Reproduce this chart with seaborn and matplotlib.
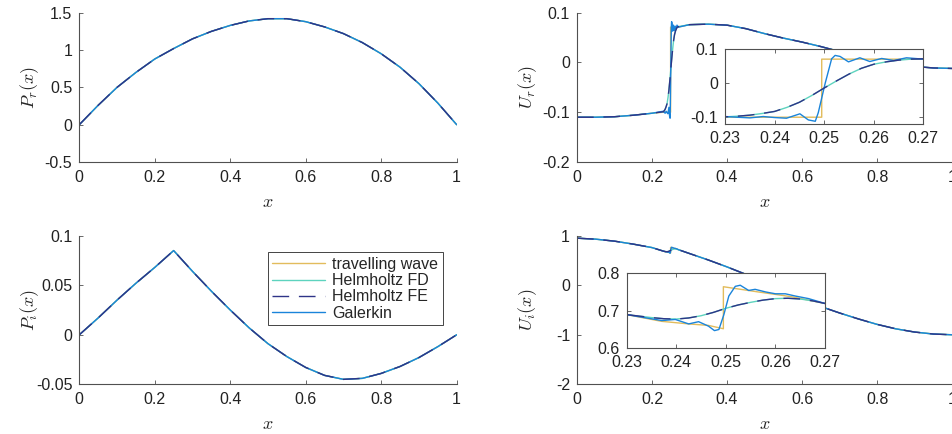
import numpy as np
import pandas as pd
import matplotlib
matplotlib.use('Agg')
import matplotlib.pyplot as plt
import seaborn as sns
from matplotlib.ticker import FuncFormatter

# ---- data ----
# P(x): all four methods agree, so one curve each
x_grid = [0.0, 0.05, 0.1, 0.15, 0.2, 0.25, 0.3, 0.35, 0.4, 0.45, 0.5,
          0.55, 0.6, 0.65, 0.7, 0.75, 0.8, 0.85, 0.9, 0.95, 1.0]
pr_vals = [0.0, 0.26, 0.50, 0.70, 0.88, 1.02, 1.15, 1.25, 1.33, 1.39, 1.42,
           1.42, 1.38, 1.31, 1.22, 1.10, 0.95, 0.77, 0.55, 0.29, 0.0]
pi_vals = [0.0, 0.017, 0.035, 0.052, 0.068, 0.085, 0.064, 0.044, 0.025, 0.007, -0.009,
           -0.022, -0.033, -0.041, -0.045, -0.044, -0.039, -0.032, -0.023, -0.012, 0.0]

# U(x) away from the shock (shared by all methods)
x_left = [0.0, 0.05, 0.1, 0.15, 0.2]
x_right = [0.3, 0.35, 0.4, 0.45, 0.5, 0.55, 0.6, 0.65, 0.7, 0.75, 0.8, 0.85, 0.9, 0.95, 1.0]
ur_left = [-0.110, -0.110, -0.109, -0.106, -0.102]
ur_right = [0.076, 0.077, 0.075, 0.068, 0.058, 0.049, 0.041, 0.032, 0.022, 0.011,
            0.002, -0.004, -0.008, -0.011, -0.012]
ui_left = [0.95, 0.93, 0.89, 0.83, 0.76]
ui_right = [0.64, 0.51, 0.37, 0.22, 0.06, -0.11, -0.27, -0.43, -0.56, -0.68,
            -0.79, -0.88, -0.945, -0.985, -1.0]

# U(x) in the shock window 0.23 - 0.27, per method
ur_tw_x = [0.23, 0.2495, 0.2495, 0.27]
ur_tw_y = [-0.100, -0.100, 0.071, 0.071]
ur_helm_x = [0.23, 0.2325, 0.235, 0.2375, 0.24, 0.2425, 0.245, 0.2475, 0.25, 0.2525,
             0.255, 0.2575, 0.26, 0.2625, 0.265, 0.2675, 0.27]
ur_helm_y = [-0.099, -0.097, -0.094, -0.089, -0.083, -0.071, -0.056, -0.036, -0.014, 0.007,
             0.027, 0.044, 0.056, 0.063, 0.068, 0.071, 0.072]
ur_gal_x = [0.23, 0.2324, 0.235, 0.2377, 0.24, 0.2424, 0.2451, 0.2468, 0.2482, 0.2488,
            0.2502, 0.2515, 0.2522, 0.2532, 0.2549, 0.2572, 0.2592, 0.2616, 0.264, 0.2666, 0.27]
ur_gal_y = [-0.098, -0.100, -0.102, -0.098, -0.101, -0.103, -0.090, -0.108, -0.112, -0.087,
            0.0, 0.072, 0.082, 0.079, 0.063, 0.075, 0.064, 0.073, 0.067, 0.075, 0.071]

ui_tw_x = [0.23, 0.237, 0.2425, 0.2465, 0.2495, 0.2495, 0.2565, 0.2633, 0.27]
ui_tw_y = [0.689, 0.671, 0.664, 0.660, 0.651, 0.764, 0.750, 0.737, 0.719]
ui_helm_x = [0.23, 0.2325, 0.235, 0.2375, 0.24, 0.2425, 0.245, 0.2475, 0.25, 0.2525,
             0.255, 0.2575, 0.26, 0.2625, 0.265, 0.2675, 0.27]
ui_helm_y = [0.689, 0.685, 0.681, 0.678, 0.677, 0.680, 0.686, 0.695, 0.706, 0.715,
             0.722, 0.728, 0.732, 0.733, 0.731, 0.726, 0.719]
ui_gal_x = [0.23, 0.2331, 0.2371, 0.2398, 0.2425, 0.2445, 0.2465, 0.2477, 0.2486, 0.2496,
            0.2506, 0.2519, 0.2529, 0.2546, 0.2559, 0.258, 0.26, 0.262, 0.264, 0.2667, 0.27]
ui_gal_y = [0.689, 0.682, 0.673, 0.676, 0.664, 0.670, 0.658, 0.646, 0.649, 0.689,
            0.739, 0.765, 0.768, 0.754, 0.757, 0.750, 0.745, 0.745, 0.739, 0.732, 0.719]

methods = ['travelling wave', 'Helmholtz FD', 'Helmholtz FE', 'Galerkin']
colors = {'travelling wave': '#E2BC5C', 'Helmholtz FD': '#5DD3BE',
          'Helmholtz FE': '#2F3488', 'Galerkin': '#1A84DA'}
styles = {'travelling wave': '-', 'Helmholtz FD': '-',
          'Helmholtz FE': (0, (12, 7)), 'Galerkin': '-'}
draw_order = ['travelling wave', 'Helmholtz FD', 'Galerkin', 'Helmholtz FE']


def join(lx, ly, wx, wy, rx, ry):
    return list(lx) + list(wx) + list(rx), list(ly) + list(wy) + list(ry)


p_r = {m: (x_grid, pr_vals) for m in methods}
p_i = {m: (x_grid, pi_vals) for m in methods}
u_r = {
    'travelling wave': join(x_left, ur_left, ur_tw_x, ur_tw_y, x_right, ur_right),
    'Helmholtz FD': join(x_left, ur_left, ur_helm_x, ur_helm_y, x_right, ur_right),
    'Helmholtz FE': join(x_left, ur_left, ur_helm_x, ur_helm_y, x_right, ur_right),
    'Galerkin': join(x_left, ur_left, ur_gal_x, ur_gal_y, x_right, ur_right),
}
u_i = {
    'travelling wave': join(x_left, ui_left, ui_tw_x, ui_tw_y, x_right, ui_right),
    'Helmholtz FD': join(x_left, ui_left, ui_helm_x, ui_helm_y, x_right, ui_right),
    'Helmholtz FE': join(x_left, ui_left, ui_helm_x, ui_helm_y, x_right, ui_right),
    'Galerkin': join(x_left, ui_left, ui_gal_x, ui_gal_y, x_right, ui_right),
}

# ---- style ----
sns.set_theme(style='ticks')
plt.rcParams['font.family'] = ['Liberation Sans', 'DejaVu Sans']
plt.rcParams['mathtext.fontset'] = 'cm'
plt.rcParams['axes.unicode_minus'] = False
grey = '#505050'
plt.rcParams.update({
    'axes.edgecolor': grey, 'axes.linewidth': 0.8,
    'xtick.color': grey, 'ytick.color': grey,
    'xtick.labelcolor': '#222222', 'ytick.labelcolor': '#222222',
    'xtick.direction': 'in', 'ytick.direction': 'in',
    'xtick.major.size': 3, 'ytick.major.size': 3,
    'xtick.major.width': 0.6, 'ytick.major.width': 0.6,
    'xtick.labelsize': 11.5, 'ytick.labelsize': 11.5,
})

fmt = FuncFormatter(lambda v, p: f'{round(v, 6) + 0:g}')


def draw(ax, curves, lw=1.0):
    for m in draw_order:
        x, y = curves[m]
        sns.lineplot(x=x, y=y, ax=ax, sort=False, estimator=None, color=colors[m],
                     linewidth=lw, linestyle=styles[m], label=m, legend=False)


def setup(ax, ylim, yticks, ylabel):
    ax.set_xlim(0, 1)
    ax.set_ylim(*ylim)
    ax.set_xticks([0, 0.2, 0.4, 0.6, 0.8, 1.0])
    ax.set_yticks(yticks)
    ax.xaxis.set_major_formatter(fmt)
    ax.yaxis.set_major_formatter(fmt)
    ax.tick_params(axis='x', pad=5.5)
    ax.tick_params(axis='y', pad=5)
    sns.despine(ax=ax)
    ax.set_xlabel('$x$', fontsize=13)
    ax.set_ylabel(ylabel, fontsize=13)
    ax.xaxis.set_label_coords(0.5, -0.215)
    ax.yaxis.set_label_coords(-0.102, 0.5)


def setup_inset(ax, ylim, yticks):
    ax.set_xlim(0.23, 0.27)
    ax.set_ylim(*ylim)
    ax.set_xticks([0.23, 0.24, 0.25, 0.26, 0.27])
    ax.set_yticks(yticks)
    ax.xaxis.set_major_formatter(fmt)
    ax.yaxis.set_major_formatter(fmt)
    ax.tick_params(top=True, right=True, pad=5)
    ax.set_facecolor('white')
    ax.set_xlabel('')
    ax.set_ylabel('')
    for s in ax.spines.values():
        s.set_visible(True)


fig = plt.figure(figsize=(9.52, 4.34), dpi=100)
ax_pr = fig.add_axes([0.0833, 0.6267, 0.3964, 0.344])
ax_pi = fig.add_axes([0.0833, 0.1145, 0.3964, 0.3424])
ax_ur = fig.add_axes([0.6061, 0.6267, 0.394, 0.344])
ax_ui = fig.add_axes([0.6061, 0.1145, 0.394, 0.3424])

draw(ax_pr, p_r)
setup(ax_pr, (-0.5, 1.5), [-0.5, 0, 0.5, 1, 1.5], '$P_r(x)$')
draw(ax_pi, p_i)
setup(ax_pi, (-0.05, 0.1), [-0.05, 0, 0.05, 0.1], '$P_i(x)$')
draw(ax_ur, u_r)
setup(ax_ur, (-0.2, 0.1), [-0.2, -0.1, 0, 0.1], '$U_r(x)$')
draw(ax_ui, u_i)
setup(ax_ui, (-2, 1), [-2, -1, 0, 1], '$U_i(x)$')

# legend in the P_i panel, in legend order
lines = {l.get_label(): l for l in ax_pi.get_lines()}
leg = ax_pi.legend([lines[m] for m in methods], methods, loc='upper right',
                   bbox_to_anchor=(0.964, 0.89), borderaxespad=0, fontsize=11.5,
                   frameon=True, fancybox=False, framealpha=1, edgecolor='#262626',
                   handlelength=3.3, handletextpad=0.45, labelspacing=0.08,
                   borderpad=0.3)
leg.get_frame().set_linewidth(0.6)

# zoom-in insets on the shock
in_ur = fig.add_axes([0.7616, 0.7143, 0.2083, 0.1721], zorder=5)
draw(in_ur, u_r)
setup_inset(in_ur, (-0.12, 0.1), [-0.1, 0, 0.1])
in_ui = fig.add_axes([0.6583, 0.1988, 0.2083, 0.1714], zorder=5)
draw(in_ui, u_i)
setup_inset(in_ui, (0.6, 0.8), [0.6, 0.7, 0.8])

fig.savefig('out.png', dpi=100, facecolor='white')
